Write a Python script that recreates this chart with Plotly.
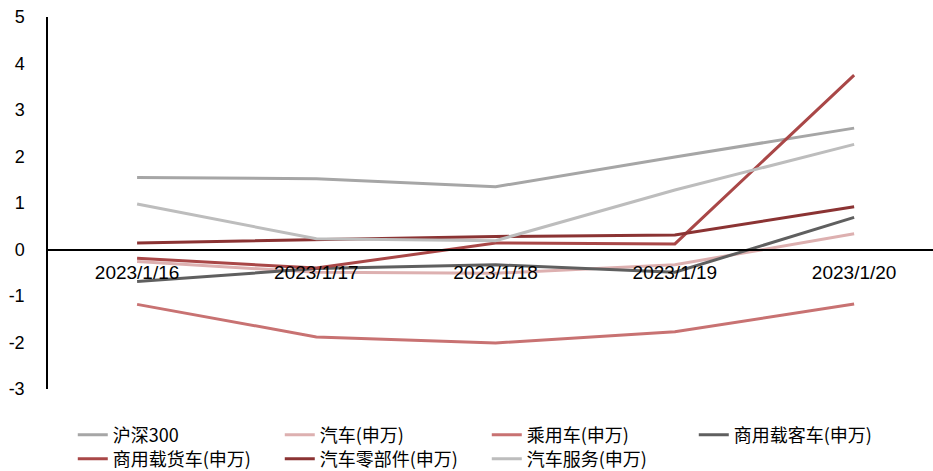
import plotly.graph_objects as go

dates = ["2023/1/16", "2023/1/17", "2023/1/18", "2023/1/19", "2023/1/20"]

hs300 = [1.55, 1.52, 1.35, 1.99, 2.61]
auto_sw = [-0.26, -0.49, -0.51, -0.33, 0.34]
passenger = [-1.18, -1.88, -2.01, -1.77, -1.17]
bus = [-0.69, -0.41, -0.33, -0.49, 0.69]
truck = [-0.19, -0.40, 0.14, 0.12, 3.75]
parts = [0.14, 0.21, 0.28, 0.31, 0.92]
service = [0.98, 0.23, 0.19, 1.28, 2.26]

series_names = ["沪深300", "汽车(申万)", "乘用车(申万)", "商用载客车(申万)",
                "商用载货车(申万)", "汽车零部件(申万)", "汽车服务(申万)"]
series_vals = [hs300, auto_sw, passenger, bus, truck, parts, service]
colors = ["#A6A6A6", "#DDB0B0", "#C87272", "#5F5F5F", "#A94747", "#8B3333", "#BDBDBD"]
legend_rows = ["legend", "legend", "legend", "legend", "legend2", "legend2", "legend2"]

y_ticks = [-3, -2, -1, 0, 1, 2, 3, 4, 5]
y_ticktext = [str(v) for v in y_ticks]

fig = go.Figure()
for name, vals, c, lg in zip(series_names, series_vals, colors, legend_rows):
    fig.add_trace(go.Scatter(x=dates, y=vals, name=name, mode="lines",
                             line=dict(color=c, width=3), legend=lg))

legend_common = dict(orientation="h", x=0.028, xanchor="left", yanchor="top",
                     entrywidth=162, entrywidthmode="pixels",
                     font=dict(family="Noto Sans CJK SC", size=18, color="black"),
                     tracegroupgap=0, itemwidth=30, bgcolor="rgba(0,0,0,0)")

fig.update_layout(
    width=933, height=471,
    margin=dict(l=48, r=0, t=17, b=82, autoexpand=False),
    plot_bgcolor="white", paper_bgcolor="white",
    font=dict(family="Arial, Liberation Sans, sans-serif", size=18, color="black"),
    showlegend=True,
    legend=dict(y=-0.074, **legend_common),
    legend2=dict(y=-0.074 - 24 / 372, **legend_common),
    xaxis=dict(type="category", range=[-0.497, 4.44],
               anchor="free", position=3/8,
               showline=True, linecolor="black", linewidth=1.5,
               showgrid=False, zeroline=False,
               ticks="outside", ticklen=6, tickcolor="rgba(0,0,0,0)",
               tickfont=dict(size=19)),
    yaxis=dict(range=[-3, 5], tickvals=y_ticks, ticktext=y_ticktext,
               showgrid=False, zeroline=False,
               showline=True, linecolor="black", linewidth=1.5,
               ticks="outside", ticklen=18, tickcolor="rgba(0,0,0,0)",
               tickfont=dict(size=18)),
)

fig.write_html("out.html")
